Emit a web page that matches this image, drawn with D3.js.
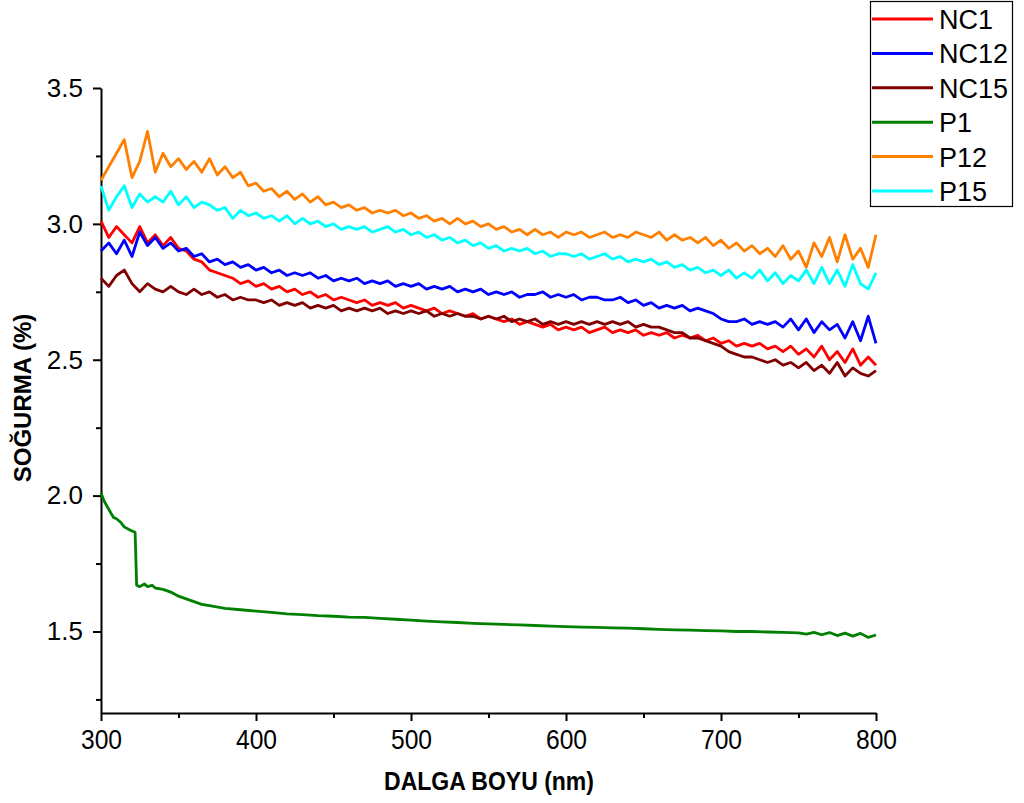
<!DOCTYPE html>
<html>
<head>
<meta charset="utf-8">
<script src="https://cdn.jsdelivr.net/npm/d3@7"></script>
<style>
  body { margin: 0; background: #fff; }
  svg { display: block; }
  .axis path, .axis line { stroke: #000; stroke-width: 2; }
  .axis text { fill: #000; font-family: "Liberation Sans", Arial, sans-serif; }
</style>
</head>
<body>
<svg id="chart" width="1024" height="803"></svg>
<script>
// wavelength grid (nm) shared by the NC / P12 / P15 series
const wavelengths = d3.range(300, 801, 5)

const nc1 = [
  3.01, 2.95, 2.99, 2.96, 2.93, 2.99, 2.93, 2.96, 2.92, 2.95,
  2.91, 2.90, 2.87, 2.86, 2.83, 2.82, 2.81, 2.80, 2.78, 2.79,
  2.77, 2.78, 2.76, 2.77, 2.75, 2.76, 2.74, 2.75, 2.73, 2.74,
  2.72, 2.73, 2.72, 2.71, 2.72, 2.70, 2.71, 2.70, 2.71, 2.69,
  2.70, 2.69, 2.68, 2.69, 2.67, 2.68, 2.67, 2.66, 2.67, 2.65,
  2.66, 2.65, 2.64, 2.65, 2.63, 2.64, 2.63, 2.62, 2.63, 2.61,
  2.62, 2.61, 2.62, 2.60, 2.61, 2.62, 2.60, 2.61, 2.60, 2.61,
  2.59, 2.60, 2.59, 2.60, 2.58, 2.59, 2.58, 2.59, 2.57, 2.58,
  2.56, 2.57, 2.55, 2.56, 2.55, 2.56, 2.54, 2.55, 2.53, 2.55,
  2.52, 2.54, 2.51, 2.55, 2.50, 2.53, 2.49, 2.54, 2.48, 2.51,
  2.48
]

const nc12 = [
  2.90, 2.93, 2.89, 2.94, 2.88, 2.97, 2.92, 2.95, 2.91, 2.93,
  2.90, 2.91, 2.88, 2.89, 2.86, 2.87, 2.85, 2.86, 2.84, 2.85,
  2.83, 2.84, 2.82, 2.83, 2.81, 2.82, 2.81, 2.82, 2.80, 2.81,
  2.79, 2.80, 2.79, 2.80, 2.78, 2.79, 2.78, 2.79, 2.77, 2.78,
  2.77, 2.78, 2.76, 2.77, 2.76, 2.77, 2.75, 2.76, 2.75, 2.76,
  2.74, 2.75, 2.74, 2.75, 2.73, 2.74, 2.74, 2.75, 2.73, 2.74,
  2.73, 2.74, 2.72, 2.73, 2.73, 2.72, 2.72, 2.73, 2.71, 2.72,
  2.70, 2.71, 2.69, 2.70, 2.69, 2.70, 2.68, 2.69, 2.68, 2.67,
  2.65, 2.64, 2.64, 2.65, 2.63, 2.64, 2.63, 2.64, 2.62, 2.65,
  2.61, 2.65, 2.60, 2.64, 2.61, 2.63, 2.58, 2.64, 2.57, 2.66,
  2.56
]

const nc15 = [
  2.80, 2.77, 2.81, 2.83, 2.78, 2.75, 2.78, 2.76, 2.75, 2.77,
  2.75, 2.74, 2.76, 2.74, 2.75, 2.73, 2.74, 2.72, 2.73, 2.72,
  2.72, 2.71, 2.72, 2.70, 2.71, 2.70, 2.71, 2.69, 2.70, 2.69,
  2.70, 2.68, 2.69, 2.68, 2.69, 2.68, 2.69, 2.67, 2.68, 2.67,
  2.68, 2.67, 2.68, 2.66, 2.67, 2.66, 2.67, 2.66, 2.66, 2.65,
  2.66, 2.65, 2.66, 2.64, 2.65, 2.64, 2.65, 2.63, 2.64, 2.63,
  2.64, 2.63, 2.64, 2.63, 2.64, 2.63, 2.64, 2.63, 2.64, 2.62,
  2.63, 2.62, 2.62, 2.61, 2.60, 2.60, 2.58, 2.58, 2.57, 2.56,
  2.55, 2.53, 2.52, 2.51, 2.51, 2.50, 2.49, 2.50, 2.48, 2.49,
  2.47, 2.49, 2.46, 2.48, 2.45, 2.49, 2.44, 2.47, 2.45, 2.44,
  2.46
]

const p12 = [
  3.16, 3.21, 3.26, 3.31, 3.17, 3.23, 3.34, 3.19, 3.26, 3.21,
  3.24, 3.20, 3.23, 3.19, 3.24, 3.18, 3.21, 3.17, 3.19, 3.14,
  3.15, 3.12, 3.13, 3.10, 3.12, 3.09, 3.11, 3.08, 3.10, 3.07,
  3.08, 3.06, 3.07, 3.05, 3.06, 3.04, 3.05, 3.04, 3.05, 3.03,
  3.04, 3.02, 3.03, 3.01, 3.02, 3.00, 3.02, 3.00, 3.01, 2.99,
  3.00, 2.98, 2.99, 2.97, 2.98, 2.96, 2.98, 2.96, 2.97, 2.95,
  2.97, 2.96, 2.97, 2.95, 2.96, 2.97, 2.95, 2.96, 2.95, 2.97,
  2.96, 2.95, 2.97, 2.94, 2.96, 2.94, 2.95, 2.93, 2.95, 2.92,
  2.94, 2.91, 2.93, 2.90, 2.92, 2.89, 2.91, 2.88, 2.92, 2.87,
  2.90, 2.84, 2.93, 2.88, 2.95, 2.86, 2.96, 2.87, 2.91, 2.84,
  2.96
]

const p15 = [
  3.14, 3.05, 3.10, 3.14, 3.06, 3.11, 3.08, 3.10, 3.08, 3.12,
  3.07, 3.10, 3.06, 3.08, 3.07, 3.05, 3.06, 3.02, 3.05, 3.03,
  3.04, 3.02, 3.03, 3.01, 3.03, 3.00, 3.02, 3.00, 3.01, 2.99,
  3.00, 2.98, 2.99, 2.98, 2.99, 2.97, 2.98, 2.99, 2.97, 2.98,
  2.96, 2.97, 2.95, 2.96, 2.94, 2.95, 2.93, 2.94, 2.92, 2.93,
  2.91, 2.92, 2.90, 2.91, 2.90, 2.91, 2.89, 2.90, 2.88, 2.89,
  2.89, 2.88, 2.89, 2.87, 2.88, 2.89, 2.87, 2.88, 2.86, 2.87,
  2.86, 2.87, 2.85, 2.86, 2.84, 2.85, 2.83, 2.84, 2.82, 2.83,
  2.81, 2.83, 2.80, 2.82, 2.80, 2.83, 2.79, 2.82, 2.78, 2.81,
  2.79, 2.83, 2.78, 2.84, 2.78, 2.83, 2.77, 2.85, 2.78, 2.76,
  2.82
]

// P1 has its own wavelength list: finer near the step at ~323 nm
const wavelengthsP1 = [
  300, 302, 305, 308, 310, 313, 315, 318, 320, 322, 323, 325, 328, 330, 333, 335,
  340, 345, 350, 355, 360, 365, 370, 380, 390, 400, 410, 420, 430, 440, 450, 460,
  470, 480, 490, 500, 510, 520, 530, 540, 550, 560, 570, 580, 590, 600, 610, 620,
  630, 640, 650, 660, 670, 680, 690, 700, 710, 720, 730, 740, 750, 755, 760, 765,
  770, 775, 780, 785, 790, 795, 800
]
const p1 = [
  2.010, 1.980, 1.950, 1.920, 1.915, 1.900, 1.885, 1.875, 1.870, 1.865, 1.670, 1.665, 1.675, 1.665, 1.670, 1.660,
  1.655, 1.645, 1.630, 1.620, 1.610, 1.600, 1.595, 1.585, 1.580, 1.575, 1.570, 1.565, 1.562, 1.558, 1.556, 1.553,
  1.552, 1.548, 1.545, 1.542, 1.538, 1.535, 1.533, 1.530, 1.528, 1.526, 1.524, 1.522, 1.520, 1.518, 1.516, 1.515,
  1.513, 1.512, 1.510, 1.508, 1.506, 1.505, 1.503, 1.502, 1.500, 1.500, 1.498, 1.497, 1.495, 1.490, 1.497, 1.488,
  1.496, 1.485, 1.494, 1.483, 1.493, 1.478, 1.487
]

const seriesNames = ['NC1', 'NC12', 'NC15', 'P1', 'P12', 'P15']
const seriesColors = ['#ff0000', '#0000ff', '#800000', '#008000', '#ff8000', '#00ffff']
const seriesX = [wavelengths, wavelengths, wavelengths, wavelengthsP1, wavelengths, wavelengths]
const seriesY = [nc1, nc12, nc15, p1, p12, p15]

const xTicks = [300, 400, 500, 600, 700, 800]
const xMinorTicks = [350, 450, 550, 650, 750]
const yTicks = [1.5, 2.0, 2.5, 3.0, 3.5]
const yMinorTicks = [1.25, 1.75, 2.25, 2.75, 3.25]

const svg = d3.select('#chart')

const x = d3.scaleLinear().domain([300, 800]).range([101, 876])
const y = d3.scaleLinear().domain([1.2, 3.5]).range([713, 88])

// minor ticks first, then major axis on top
svg.append('g')
  .attr('class', 'axis')
  .attr('transform', 'translate(0,713)')
  .call(d3.axisBottom(x).tickValues(xMinorTicks).tickSize(5).tickFormat(''))
  .call(g => g.select('.domain').remove())

svg.append('g')
  .attr('class', 'axis')
  .attr('transform', 'translate(101,0)')
  .call(d3.axisLeft(y).tickValues(yMinorTicks).tickSize(5).tickFormat(''))
  .call(g => g.select('.domain').remove())

svg.append('g')
  .attr('class', 'axis')
  .attr('transform', 'translate(0,713)')
  .call(d3.axisBottom(x).tickValues(xTicks).tickSize(8).tickSizeOuter(0).tickPadding(8).tickFormat(d3.format('d')))
  .call(g => g.selectAll('text')
    .attr('font-size', 28)
    .attr('transform', 'scale(0.88,1)')) // tick labels in the picture are condensed

svg.append('g')
  .attr('class', 'axis')
  .attr('transform', 'translate(101,0)')
  .call(d3.axisLeft(y).tickValues(yTicks).tickSize(8).tickSizeOuter(0).tickPadding(10).tickFormat(d3.format('.1f')))
  .call(g => g.selectAll('text').attr('font-size', 26))

const line = d3.line()
  .x(d => x(d[0]))
  .y(d => y(d[1]))

seriesNames.forEach((name, i) => {
  const pts = seriesX[i].map((w, j) => [w, seriesY[i][j]])
  svg.append('path')
    .datum(pts)
    .attr('fill', 'none')
    .attr('stroke', seriesColors[i])
    .attr('stroke-width', 2.8)
    .attr('stroke-linejoin', 'round')
    .attr('d', line)
})

// axis titles
svg.append('text')
  .attr('transform', 'translate(489,790) scale(0.92,1)')
  .attr('text-anchor', 'middle')
  .attr('font-family', '"Liberation Sans", Arial, sans-serif')
  .attr('font-weight', 'bold')
  .attr('font-size', 25)
  .text('DALGA BOYU (nm)')

svg.append('text')
  .attr('transform', 'translate(31,398) rotate(-90)')
  .attr('text-anchor', 'middle')
  .attr('font-family', '"Liberation Sans", Arial, sans-serif')
  .attr('font-weight', 'bold')
  .attr('font-size', 24)
  .text('SOĞURMA (%)')

// legend
const legend = svg.append('g')

legend.append('rect')
  .attr('x', 870.5)
  .attr('y', 1.5)
  .attr('width', 142)
  .attr('height', 205)
  .attr('fill', '#fff')
  .attr('stroke', '#000')
  .attr('stroke-width', 1.2)

const rowY = d3.scaleLinear().domain([0, 5]).range([19, 191])

seriesNames.forEach((name, i) => {
  legend.append('line')
    .attr('x1', 872)
    .attr('x2', 933)
    .attr('y1', rowY(i))
    .attr('y2', rowY(i))
    .attr('stroke', seriesColors[i])
    .attr('stroke-width', 3)

  legend.append('text')
    .attr('x', 939)
    .attr('y', rowY(i) + 10)
    .attr('font-family', '"Liberation Sans", Arial, sans-serif')
    .attr('font-size', 27)
    .text(name)
})
</script>
</body>
</html>
